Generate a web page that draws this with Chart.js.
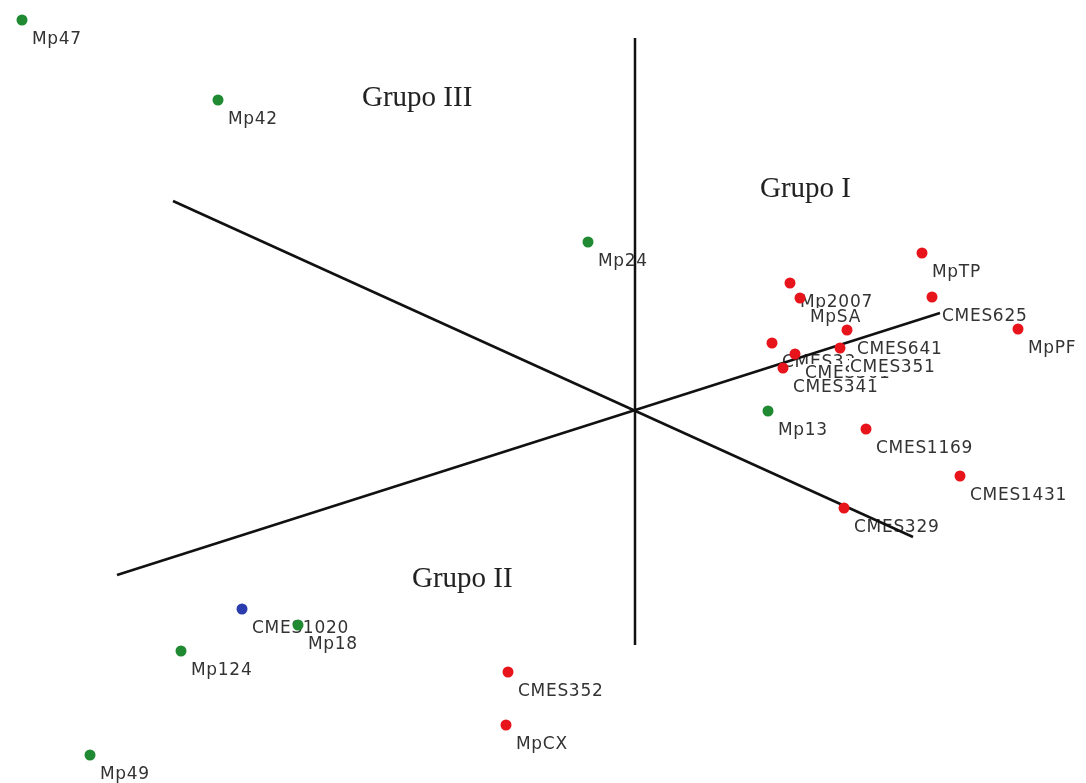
<!DOCTYPE html>
<html>
<head>
<meta charset="utf-8">
<script src="https://cdn.jsdelivr.net/npm/chart.js@4.4.0/dist/chart.umd.min.js"></script>
<style>
  html, body { margin: 0; padding: 0; background: #fff; }
  #wrap { width: 1086px; height: 783px; position: relative; }
</style>
</head>
<body>
<div id="wrap"><canvas id="c" width="1086" height="783"></canvas></div>
<script>
// ---- Data (ordination plane coordinates) ----
const names = ["Mp47","Mp42","Mp24","MpTP","Mp2007","MpSA","CMES625","MpPF",
  "CMES331","CMES361","CMES351","CMES641","CMES341","Mp13","CMES1169","CMES1431","CMES329",
  "CMES1020","Mp18","Mp124","CMES352","MpCX","Mp49"];
const xs = [22,218,588,922,790,800,932,1018,
  772,795,840,847,783,768,866,960,844,
  242,298,181,508,506,90];
const ys = [20,100,242,253,283,298,297,329,
  343,354,348,330,368,411,429,476,508,
  609,625,651,672,725,755];
const kinds = ["g","g","g","r","r","r","r","r",
  "r","r","r","r","r","g","r","r","r",
  "b","g","g","r","r","g"];

// axis lines of the biplot (endpoints in same plane)
const axisA = [[635,38],[635,645]];
const axisB = [[173,201],[913,537]];
const axisC = [[117,575],[940,313]];

const groupNames = ["Grupo III","Grupo I","Grupo II"];
const groupAt = [[362,106],[760,197],[412,587]];

// ---- Styles ----
const colors = { r: "#e8141c", g: "#1f8a32", b: "#2b3cae" };
const labelDx = 10, labelDy = 24;

function pts(kind) {
  const out = [];
  names.forEach((n, i) => { if (kinds[i] === kind) out.push({ x: xs[i], y: ys[i], name: n }); });
  return out;
}
function line(a) { return a.map(p => ({ x: p[0], y: p[1] })); }

const labelPlugin = {
  id: "labels",
  beforeDatasetsDraw(chart) {
    const ctx = chart.ctx;
    const sx = chart.scales.x, sy = chart.scales.y;
    ctx.save();
    ctx.font = "17px 'DejaVu Sans'";
    try { ctx.letterSpacing = "0.7px"; } catch (e) {}
    ctx.textBaseline = "alphabetic";
    names.forEach((n, i) => {
      const px = sx.getPixelForValue(xs[i]) + labelDx;
      const py = sy.getPixelForValue(ys[i]) + labelDy;
      const w = ctx.measureText(n).width;
      ctx.fillStyle = "#ffffff";
      ctx.fillRect(px - 1, py - 14, w + 2, 18);
      ctx.fillStyle = "#333333";
      ctx.fillText(n, px, py);
    });
    try { ctx.letterSpacing = "0px"; } catch (e) {}
    ctx.font = "29px 'Liberation Serif'";
    ctx.fillStyle = "#222222";
    groupNames.forEach((g, i) => {
      ctx.fillText(g, sx.getPixelForValue(groupAt[i][0]), sy.getPixelForValue(groupAt[i][1]));
    });
    ctx.restore();
  }
};

const pointDs = (kind) => ({
  type: "scatter",
  data: pts(kind),
  backgroundColor: colors[kind],
  borderColor: colors[kind],
  pointRadius: 5.5,
  pointHoverRadius: 5.5,
  borderWidth: 0
});
const lineDs = (a) => ({
  type: "line",
  data: line(a),
  borderColor: "#111111",
  borderWidth: 2.5,
  pointRadius: 0,
  fill: false,
  tension: 0
});

new Chart(document.getElementById("c"), {
  type: "scatter",
  data: {
    datasets: [pointDs("r"), pointDs("g"), pointDs("b"), lineDs(axisA), lineDs(axisB), lineDs(axisC)]
  },
  options: {
    responsive: false,
    animation: false,
    layout: { padding: 0, autoPadding: false },
    plugins: { legend: { display: false }, tooltip: { enabled: false } },
    scales: {
      x: { type: "linear", min: 0, max: 1086, display: false },
      y: { type: "linear", min: 0, max: 783, reverse: true, display: false }
    },
    elements: { point: { hitRadius: 0 } },
    clip: false
  },
  plugins: [labelPlugin]
});
</script>
</body>
</html>
